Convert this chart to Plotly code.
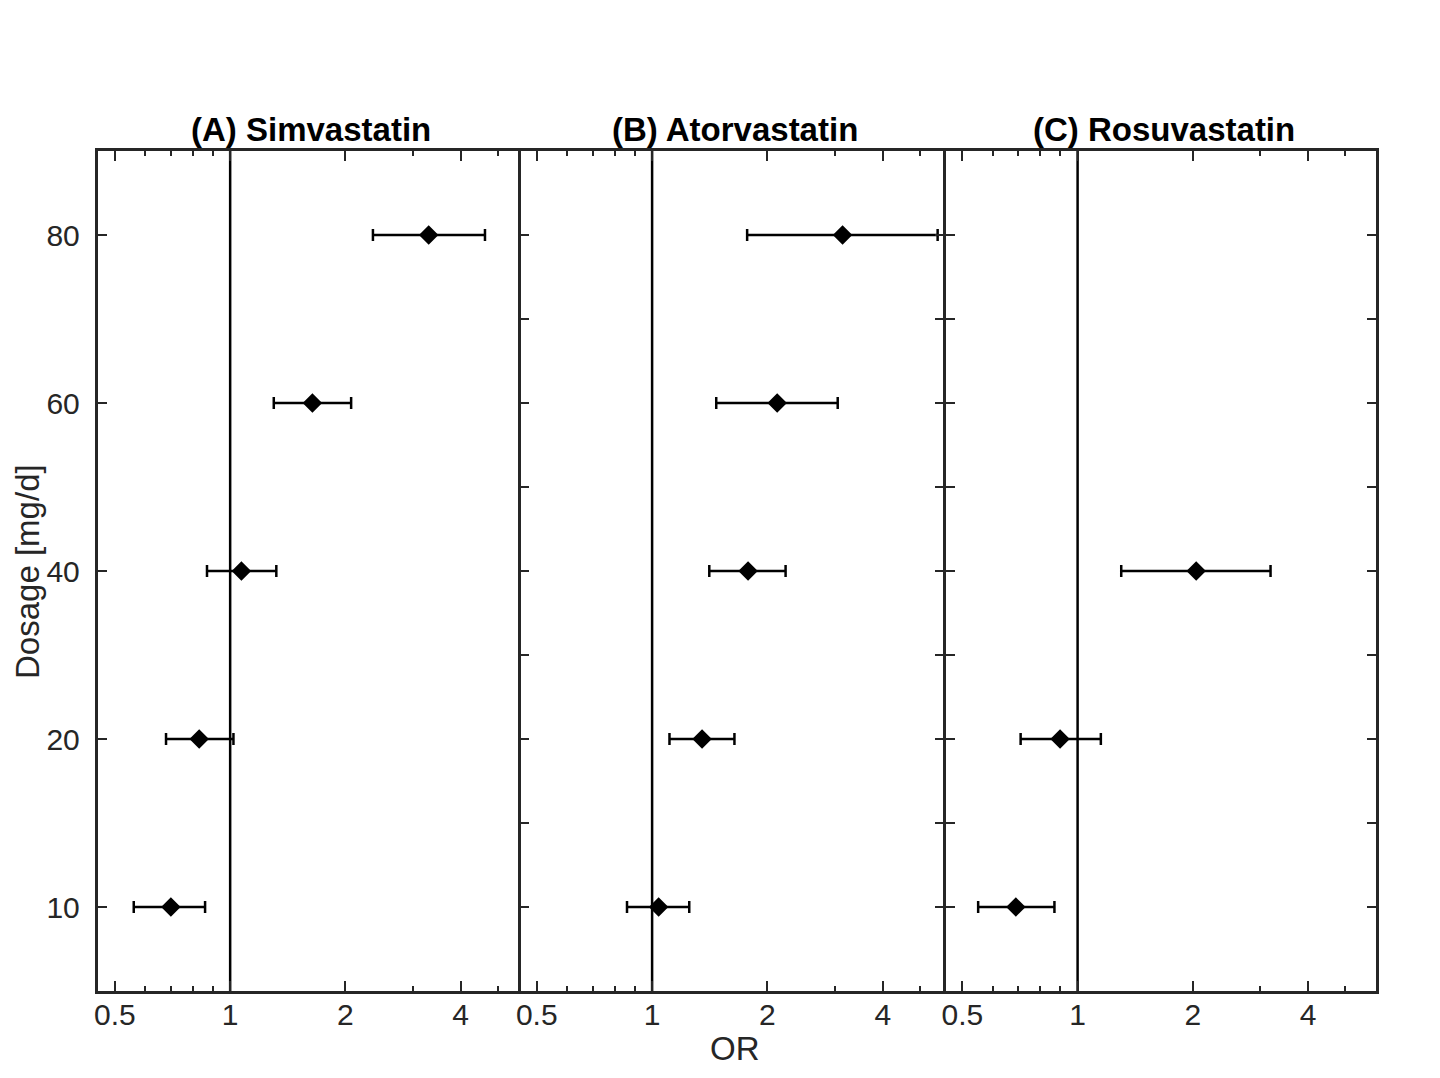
import math
import plotly.graph_objects as go

# dosage categories (mg/d), bottom to top
doses = ["10", "20", "40", "60", "80"]

# odds ratios with 95% CI
simva_or = [0.70, 0.83, 1.07, 1.64, 3.30]
simva_lo = [0.56, 0.68, 0.87, 1.30, 2.36]
simva_hi = [0.86, 1.02, 1.32, 2.07, 4.63]

atorva_or = [1.04, 1.35, 1.78, 2.12, 3.14]
atorva_lo = [0.86, 1.11, 1.41, 1.47, 1.77]
atorva_hi = [1.25, 1.64, 2.23, 3.05, 5.56]

rosuva_or = [0.69, 0.90, 2.04]
rosuva_lo = [0.55, 0.71, 1.30]
rosuva_hi = [0.87, 1.15, 3.19]

titles = ["(A) Simvastatin", "(B) Atorvastatin", "(C) Rosuvastatin"]
x_major = [0.5, 1, 2, 4]
x_major_text = ["0.5", "1", "2", "4"]
x_minor = [0.6, 0.7, 0.8, 0.9, 3, 5]

# page has an 8px body margin, so the figure is a bit smaller
OFF = 8
W, H = 1440 - OFF, 1078 - OFF
FONT = "Liberation Sans, Arial, Helvetica, sans-serif"
AX = "#262626"

# panel pixel edges (page coords); lines are drawn just outside the domain
px_edges = [(94, 515.5), (517, 943), (944.5, 1376)]
top_px, bot_px = 151, 991
x_ranges = [(0.451, 5.65), (0.451, 5.79), (0.453, 6.02)]


def fx(p):
    return (p - OFF) / W


def fy(p):
    return 1 - (p - OFF) / H


panels = [
    (simva_or, simva_lo, simva_hi),
    (atorva_or, atorva_lo, atorva_hi),
    (rosuva_or, rosuva_lo, rosuva_hi),
]

fig = go.Figure()

ydom = [fy(bot_px), fy(top_px)]
ypos = [i + 1 for i in range(len(doses))]
half_steps = [p / 2 for p in range(2, 2 * len(doses) + 1)]

for k, (orv, lo, hi) in enumerate(panels):
    n = k + 1
    xa = "x" if n == 1 else "x%d" % n
    ya = "y" if n == 1 else "y%d" % n
    fig.add_trace(go.Scatter(
        x=orv,
        y=ypos[:len(orv)],
        mode="markers",
        marker=dict(symbol="diamond", size=15, color="black"),
        error_x=dict(
            type="data",
            symmetric=False,
            array=[h - o for h, o in zip(hi, orv)],
            arrayminus=[o - l for o, l in zip(orv, lo)],
            color="black",
            thickness=2.5,
            width=6,
        ),
        xaxis=xa, yaxis=ya,
        showlegend=False,
    ))

    # reference line at OR = 1
    fig.add_shape(type="line", xref=xa, yref=ya + " domain",
                  x0=1, x1=1, y0=0, y1=1,
                  line=dict(color="black", width=2.5), layer="below")

    xl, xr = px_edges[k]
    xkey = "xaxis" if n == 1 else "xaxis%d" % n
    ykey = "yaxis" if n == 1 else "yaxis%d" % n
    r0, r1 = x_ranges[k]

    # y frame: A draws left+right lines, B only ticks, C both lines + ticks
    if n == 1:
        ycfg = dict(tickvals=ypos, ticktext=doses, showticklabels=True,
                    showline=True, mirror=True)
    elif n == 2:
        ycfg = dict(tickvals=half_steps, showticklabels=False,
                    showline=False, mirror="ticks")
    else:
        ycfg = dict(tickvals=half_steps, showticklabels=False,
                    showline=True, mirror="ticks")

    fig.update_layout(**{
        xkey: dict(
            domain=[fx(xl), fx(xr)],
            type="log",
            range=[math.log10(r0), math.log10(r1)],
            anchor=ya,
            tickmode="array",
            tickvals=x_major,
            ticktext=x_major_text,
            ticks="inside",
            ticklen=10,
            tickwidth=2,
            tickcolor=AX,
            minor=dict(tickmode="array", tickvals=x_minor, ticks="inside",
                       ticklen=5, tickwidth=2, tickcolor=AX, showgrid=False),
            showline=True,
            linewidth=3,
            linecolor=AX,
            mirror="ticks",
            showgrid=False,
            zeroline=False,
            tickfont=dict(family=FONT, size=30, color=AX),
            ticklabelstandoff=-5,
        ),
        ykey: dict(
            domain=ydom,
            range=[0.5, len(doses) + 0.5],
            anchor=xa,
            tickmode="array",
            ticks="inside",
            ticklen=9,
            tickwidth=2,
            tickcolor=AX,
            linewidth=3,
            linecolor=AX,
            showgrid=False,
            zeroline=False,
            tickfont=dict(family=FONT, size=30, color=AX),
            ticklabelstandoff=9,
            **ycfg,
        ),
    })

    fig.add_annotation(
        text="<b>%s</b>" % titles[k],
        xref="paper", yref="paper",
        x=fx((px_edges[k][0] + px_edges[k][1]) / 2 + 3), y=ydom[1],
        xanchor="center", yanchor="bottom", yshift=1,
        showarrow=False,
        font=dict(family=FONT, size=33, color="black"),
    )

fig.add_annotation(
    text="OR", xref="paper", yref="paper",
    x=fx(733), y=fy(1048), xanchor="center", yanchor="middle",
    showarrow=False, font=dict(family=FONT, size=33, color=AX),
)
fig.add_annotation(
    text="Dosage [mg/d]", xref="paper", yref="paper", textangle=-90,
    x=fx(23), y=fy(571), xanchor="center", yanchor="middle",
    showarrow=False, font=dict(family=FONT, size=33, color=AX),
)

fig.update_layout(
    width=W, height=H,
    margin=dict(l=0, r=0, t=0, b=0),
    paper_bgcolor="white",
    plot_bgcolor="white",
)

fig.write_html("out.html")
